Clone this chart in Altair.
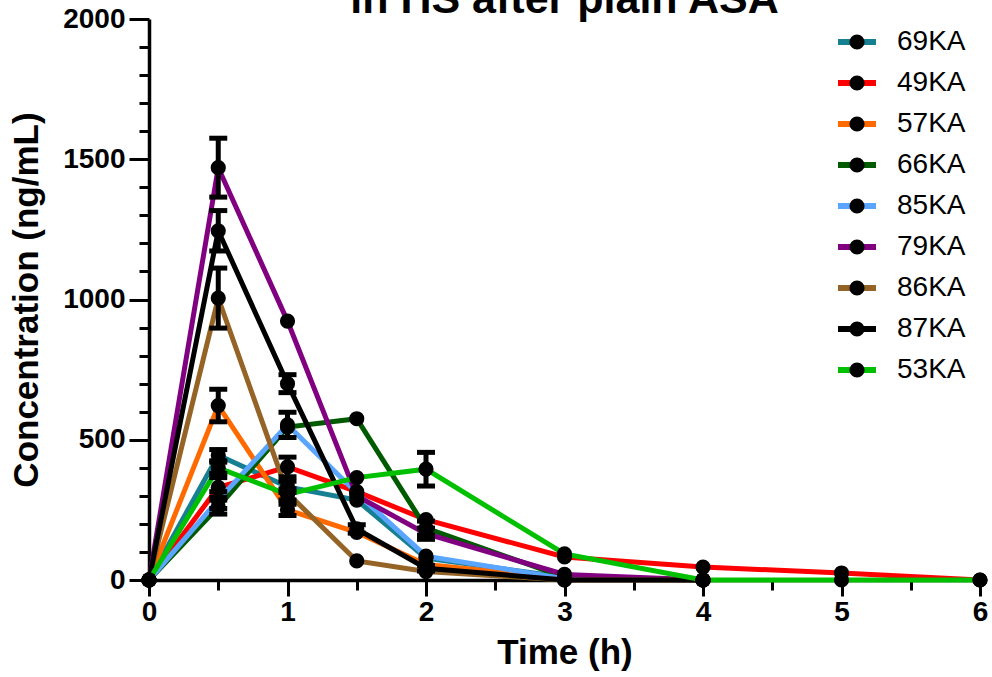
import altair as alt
import pandas as pd

# ---- data ----
times = [0, 0.5, 1, 1.5, 2, 3, 4, 5, 6]
series_names = ["69KA", "49KA", "57KA", "66KA", "85KA", "79KA", "86KA", "87KA", "53KA"]
series_colors = ["#167F91", "#FF0000", "#FF6A00", "#005A00", "#5AA5FF",
                 "#800080", "#956325", "#000000", "#00C000"]
title_text = "in HS after plain ASA"

mean_69KA = [0, 445, 332, 285, 78, 10, 0, None, None]
mean_49KA = [0, 330, 403, 315, 215, 82, 46, 25, 0]
mean_57KA = [0, 622, 250, 170, 55, 5, 0, None, None]
mean_66KA = [0, 260, 545, 575, 185, 10, 0, None, None]
mean_85KA = [0, 285, 553, 310, 85, 5, 0, None, None]
mean_79KA = [0, 1470, 923, 300, 165, 20, 0, None, None]
mean_86KA = [0, 1005, 310, 68, 30, 0, 0, None, None]
mean_87KA = [0, 1245, 700, 182, 42, 0, 0, None, None]
mean_53KA = [0, 400, 305, 365, 395, 93, 0, 0, 0]

sd_69KA = [0, 20, 20, 0, 0, 0, 0, None, None]
sd_49KA = [0, 35, 35, 0, 0, 0, 0, 0, 0]
sd_57KA = [0, 58, 20, 0, 0, 0, 0, None, None]
sd_66KA = [0, 25, 0, 0, 25, 0, 0, None, None]
sd_85KA = [0, 30, 45, 0, 0, 0, 0, None, None]
sd_79KA = [0, 105, 0, 0, 20, 0, 0, None, None]
sd_86KA = [0, 107, 0, 0, 0, 0, 0, None, None]
sd_87KA = [0, 72, 32, 15, 10, 0, 0, None, None]
sd_53KA = [0, 20, 20, 0, 60, 0, 0, 0, 0]

means = [mean_69KA, mean_49KA, mean_57KA, mean_66KA, mean_85KA,
         mean_79KA, mean_86KA, mean_87KA, mean_53KA]
sds = [sd_69KA, sd_49KA, sd_57KA, sd_66KA, sd_85KA,
       sd_79KA, sd_86KA, sd_87KA, sd_53KA]

rows, err_rows = [], []
for name, m, s in zip(series_names, means, sds):
    for t, v, e in zip(times, m, s):
        if v is None:
            continue
        rows.append({"series": name, "time": t, "conc": v})
        if e:
            err_rows.append({"series": name, "time": t, "lo": v - e, "hi": v + e})
df = pd.DataFrame(rows)
err_df = pd.DataFrame(err_rows)
leg_df = pd.DataFrame({"series": series_names})

FONT = "Liberation Sans"
color_scale = alt.Scale(domain=series_names, range=series_colors)

x_axis = alt.Axis(
    values=[i * 0.5 for i in range(13)],
    labelExpr="datum.value % 1 === 0 ? format(datum.value, 'd') : ''",
    tickSize={"condition": {"test": "datum.value % 1 === 0", "value": 16}, "value": 10},
    tickWidth=3, tickColor="black", domainWidth=3.5, domainColor="black",
    labelFont=FONT, labelFontSize=28, labelFontWeight="bold", labelColor="black",
    labelPadding=2, labelFlush=False, labelOverlap=False,
    title="Time (h)", titleFont=FONT, titleFontSize=35, titleFontWeight="bold",
    titleColor="black", titlePadding=9, grid=False,
)
y_axis = alt.Axis(
    values=list(range(0, 2001, 100)),
    labelExpr="datum.value % 500 === 0 ? format(datum.value, 'd') : ''",
    tickSize={"condition": {"test": "datum.value % 500 === 0", "value": 20}, "value": 10},
    tickWidth=3, tickColor="black", domainWidth=3.5, domainColor="black",
    labelFont=FONT, labelFontSize=28, labelFontWeight="bold", labelColor="black",
    labelPadding=4, labelFlush=False, labelOverlap=False,
    title="Concentration (ng/mL)", titleFont=FONT, titleFontSize=35,
    titleFontWeight="bold", titleColor="black", titlePadding=18, grid=False,
)

xs = alt.Scale(domain=[0, 6], nice=False)
ys = alt.Scale(domain=[0, 2000], nice=False)

lines = alt.Chart(df).mark_line(strokeWidth=5).encode(
    x=alt.X("time:Q", scale=xs, axis=x_axis),
    y=alt.Y("conc:Q", scale=ys, axis=y_axis),
    color=alt.Color("series:N", scale=color_scale, legend=None),
)
err_rule = alt.Chart(err_df).mark_rule(strokeWidth=5, color="black").encode(
    x=alt.X("time:Q", scale=xs, axis=x_axis),
    y=alt.Y("lo:Q", scale=ys, axis=y_axis),
    y2="hi:Q",
)
cap_hi = alt.Chart(err_df).mark_tick(
    thickness=5, size=18, color="black", opacity=1, orient="horizontal"
).encode(
    x=alt.X("time:Q", scale=xs, axis=x_axis),
    y=alt.Y("hi:Q", scale=ys, axis=y_axis),
)
cap_lo = alt.Chart(err_df).mark_tick(
    thickness=5, size=18, color="black", opacity=1, orient="horizontal"
).encode(
    x=alt.X("time:Q", scale=xs, axis=x_axis),
    y=alt.Y("lo:Q", scale=ys, axis=y_axis),
)
pts = alt.Chart(df).mark_circle(size=230, color="black", opacity=1).encode(
    x=alt.X("time:Q", scale=xs, axis=x_axis),
    y=alt.Y("conc:Q", scale=ys, axis=y_axis),
    detail="series:N",
)
main = alt.layer(lines, err_rule, cap_hi, cap_lo, pts)

LY = alt.Y("series:N", sort=series_names,
           scale=alt.Scale(type="point", range=[23, 351], padding=0), axis=None)
leg_rule = alt.Chart(leg_df).mark_rule(strokeWidth=6).encode(
    x=alt.value(689), x2=alt.value(727), y=LY,
    color=alt.Color("series:N", scale=color_scale, legend=None),
)
leg_dot = alt.Chart(leg_df).mark_circle(size=230, color="black", opacity=1).encode(
    x=alt.value(708), y=LY,
)
leg_text = alt.Chart(leg_df).mark_text(
    align="left", baseline="middle", fontSize=28, font=FONT, color="black"
).encode(x=alt.value(748), y=LY, text="series:N")
title_mark = alt.Chart(pd.DataFrame({"t": [title_text]})).mark_text(
    align="center", baseline="alphabetic", fontSize=43, font=FONT,
    fontWeight="bold", color="black"
).encode(x=alt.value(415.5), y=alt.value(-6), text="t:N")
legend = alt.layer(leg_rule, leg_dot, leg_text, title_mark)

chart = alt.layer(main, legend).resolve_scale(y="independent").properties(
    width=831, height=561,
    autosize=alt.AutoSizeParams(type="none"),
    padding={"left": 149, "top": 19, "right": 12, "bottom": 97},
).configure_view(stroke=None)

chart.save("out.html", embed_options={"renderer": "svg", "actions": False})
